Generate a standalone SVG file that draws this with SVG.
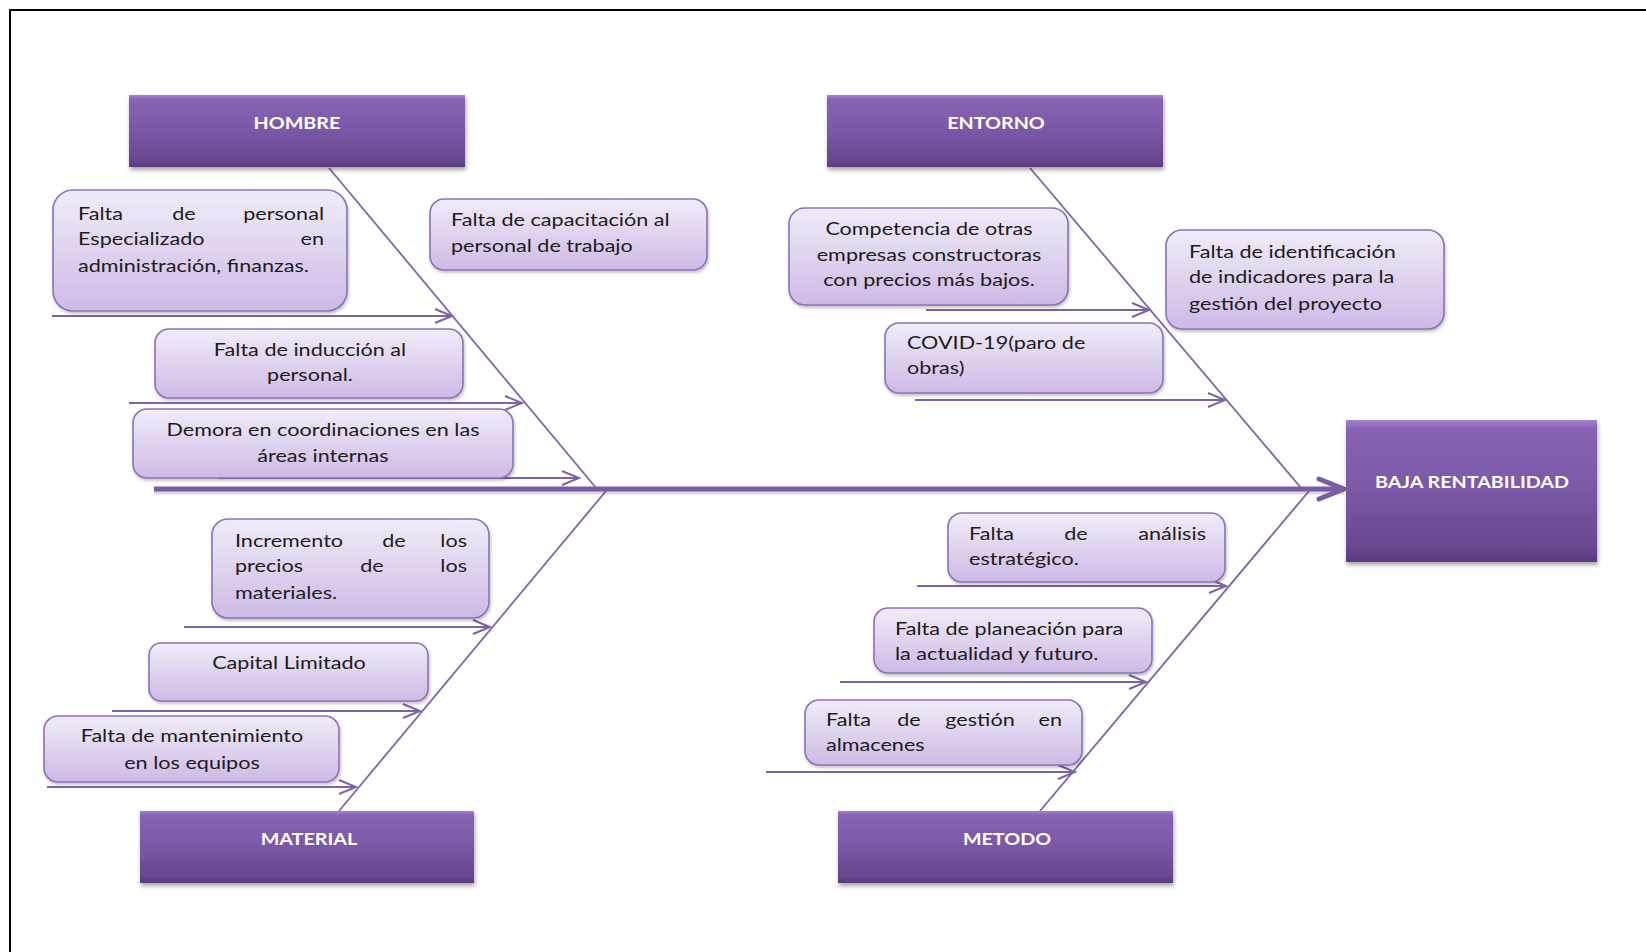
<svg xmlns="http://www.w3.org/2000/svg" width="1646" height="952" viewBox="0 0 1646 952">
<defs>
<linearGradient id="hdr" x1="0" y1="0" x2="0" y2="1">
<stop offset="0" stop-color="#A383CF"/>
<stop offset="0.06" stop-color="#8863B4"/>
<stop offset="0.5" stop-color="#7A58A6"/>
<stop offset="0.9" stop-color="#68478F"/>
<stop offset="1" stop-color="#5A3B7D"/>
</linearGradient>
<linearGradient id="cause" x1="0" y1="0" x2="0" y2="1">
<stop offset="0" stop-color="#F1ECF8"/>
<stop offset="1" stop-color="#CDBAE6"/>
</linearGradient>
<filter id="sh" x="-10%" y="-10%" width="120%" height="130%">
<feDropShadow dx="1" dy="3" stdDeviation="2" flood-color="#000" flood-opacity="0.35"/>
</filter>
<filter id="sh2" x="-10%" y="-10%" width="120%" height="130%">
<feDropShadow dx="1" dy="2" stdDeviation="1.5" flood-color="#000" flood-opacity="0.25"/>
</filter>
<marker id="sub" markerUnits="userSpaceOnUse" markerWidth="22" markerHeight="18" refX="18" refY="8" orient="auto" overflow="visible">
<path d="M1,1 L18,8 L1,15" fill="none" stroke="#7E62A8" stroke-width="2"/>
</marker>
<marker id="main" markerUnits="userSpaceOnUse" markerWidth="34" markerHeight="26" refX="27" refY="12" orient="auto" overflow="visible">
<path d="M2,2 L27,12 L2,22" fill="none" stroke="#7B5AA6" stroke-width="5" stroke-linecap="round" stroke-linejoin="round"/>
</marker>
</defs>
<style>
.hb{fill:url(#hdr);filter:url(#sh)}
.ht{font-family:Lato,"Liberation Sans",sans-serif;font-size:17px;font-weight:bold;fill:#fff;text-anchor:middle;transform-box:fill-box;transform-origin:50% 50%;transform:scaleX(1.16)}
.cb{fill:url(#cause);stroke:#8E70B8;stroke-width:1.6;filter:url(#sh2)}
.t{font-family:Lato,"Liberation Sans",sans-serif;font-size:16.5px;fill:#1c1c1c;transform-box:fill-box;transform-origin:0% 50%;transform:scaleX(1.31)}
.m{text-anchor:middle;transform-origin:50% 50%}
.e{text-anchor:end;transform-origin:100% 50%}
.bone{stroke:#8064A6;stroke-width:1.8;fill:none}
.sa{stroke:#7E62A8;stroke-width:2;fill:none;marker-end:url(#sub)}
</style>
<rect x="10" y="10" width="1700" height="1000" fill="#fff" stroke="#000" stroke-width="2"/>

<g id="connectors">
<line class="bone" x1="329" y1="168" x2="597" y2="489"/>
<line class="bone" x1="1030" y1="168" x2="1302" y2="489"/>
<line class="bone" x1="606" y1="491" x2="339" y2="811"/>
<line class="bone" x1="1309" y1="491" x2="1040" y2="811"/>
<line x1="154" y1="492" x2="1344" y2="492" stroke="#000" stroke-opacity="0.15" stroke-width="5"/>
<line x1="154" y1="489" x2="1344" y2="489" stroke="#7B5AA6" stroke-width="5" marker-end="url(#main)"/>
<line class="sa" x1="52" y1="316" x2="452" y2="316"/>
<line class="sa" x1="129" y1="403" x2="522" y2="403"/>
<line class="sa" x1="218" y1="478" x2="579" y2="478"/>
<line class="sa" x1="926" y1="310" x2="1149" y2="310"/>
<line class="sa" x1="915" y1="400" x2="1225" y2="400"/>
<line class="sa" x1="184" y1="627" x2="490" y2="627"/>
<line class="sa" x1="112" y1="711" x2="420" y2="711"/>
<line class="sa" x1="47" y1="787" x2="356" y2="787"/>
<line class="sa" x1="917" y1="586" x2="1226" y2="586"/>
<line class="sa" x1="840" y1="682" x2="1146" y2="682"/>
<line class="sa" x1="766" y1="772" x2="1075" y2="772"/>
</g>

<g id="hombre"><rect class="hb" x="129" y="95" width="336" height="72"/><text class="ht" x="297" y="129">HOMBRE</text></g>
<g id="entorno"><rect class="hb" x="827" y="95" width="336" height="72"/><text class="ht" x="996" y="129">ENTORNO</text></g>
<g id="material"><rect class="hb" x="140" y="811" width="334" height="72"/><text class="ht" x="309" y="845">MATERIAL</text></g>
<g id="metodo"><rect class="hb" x="838" y="811" width="335" height="72"/><text class="ht" x="1007" y="845">METODO</text></g>
<g id="baja-rentabilidad"><rect class="hb" x="1346" y="420" width="251" height="142"/><text class="ht" x="1472" y="488">BAJA RENTABILIDAD</text></g>

<g id="c1"><rect class="cb" x="53" y="190" width="294" height="121" rx="20"/>
<text class="t" x="78" y="220">Falta</text><text class="t m" x="184" y="220">de</text><text class="t e" x="324" y="220">personal</text>
<text class="t" x="78" y="245">Especializado</text><text class="t e" x="324" y="245">en</text>
<text class="t" x="78" y="272">administración, finanzas.</text></g>

<g id="c2"><rect class="cb" x="430" y="199" width="277" height="71" rx="14"/>
<text class="t" x="451" y="226">Falta de capacitación al</text>
<text class="t" x="451" y="252">personal de trabajo</text></g>

<g id="c3"><rect class="cb" x="155" y="329" width="308" height="69" rx="14"/>
<text class="t m" x="310" y="356">Falta de inducción al</text>
<text class="t m" x="310" y="381">personal.</text></g>

<g id="c4"><rect class="cb" x="133" y="409" width="380" height="69" rx="14"/>
<text class="t m" x="323" y="436">Demora en coordinaciones en las</text>
<text class="t m" x="323" y="462">áreas internas</text></g>

<g id="c5"><rect class="cb" x="789" y="208" width="279" height="97" rx="16"/>
<text class="t m" x="929" y="235">Competencia de otras</text>
<text class="t m" x="929" y="261">empresas constructoras</text>
<text class="t m" x="929" y="286">con precios más bajos.</text></g>

<g id="c6"><rect class="cb" x="1166" y="230" width="278" height="99" rx="16"/>
<text class="t" x="1189" y="258">Falta de identificación</text>
<text class="t" x="1189" y="283">de indicadores para la</text>
<text class="t" x="1189" y="310">gestión del proyecto</text></g>

<g id="c7"><rect class="cb" x="885" y="323" width="278" height="70" rx="14"/>
<text class="t" x="907" y="349">COVID-19(paro de</text>
<text class="t" x="907" y="374">obras)</text></g>

<g id="c8"><rect class="cb" x="212" y="519" width="277" height="99" rx="16"/>
<text class="t" x="235" y="547">Incremento</text><text class="t m" x="394" y="547">de</text><text class="t e" x="467" y="547">los</text>
<text class="t" x="235" y="572">precios</text><text class="t m" x="372" y="572">de</text><text class="t e" x="467" y="572">los</text>
<text class="t" x="235" y="599">materiales.</text></g>

<g id="c9"><rect class="cb" x="149" y="643" width="279" height="58" rx="12"/>
<text class="t m" x="289" y="669">Capital Limitado</text></g>

<g id="c10"><rect class="cb" x="44" y="716" width="295" height="66" rx="14"/>
<text class="t m" x="192" y="742">Falta de mantenimiento</text>
<text class="t m" x="192" y="769">en los equipos</text></g>

<g id="c11"><rect class="cb" x="948" y="513" width="277" height="69" rx="14"/>
<text class="t" x="969" y="540">Falta</text><text class="t m" x="1076" y="540">de</text><text class="t e" x="1206" y="540">análisis</text>
<text class="t" x="969" y="565">estratégico.</text></g>

<g id="c12"><rect class="cb" x="874" y="608" width="278" height="65" rx="14"/>
<text class="t" x="895" y="635">Falta de planeación para</text>
<text class="t" x="895" y="660">la actualidad y futuro.</text></g>

<g id="c13"><rect class="cb" x="805" y="700" width="277" height="65" rx="14"/>
<text class="t" x="826" y="726">Falta</text><text class="t m" x="909" y="726">de</text><text class="t m" x="980" y="726">gestión</text><text class="t e" x="1062" y="726">en</text>
<text class="t" x="826" y="751">almacenes</text></g>
</svg>
